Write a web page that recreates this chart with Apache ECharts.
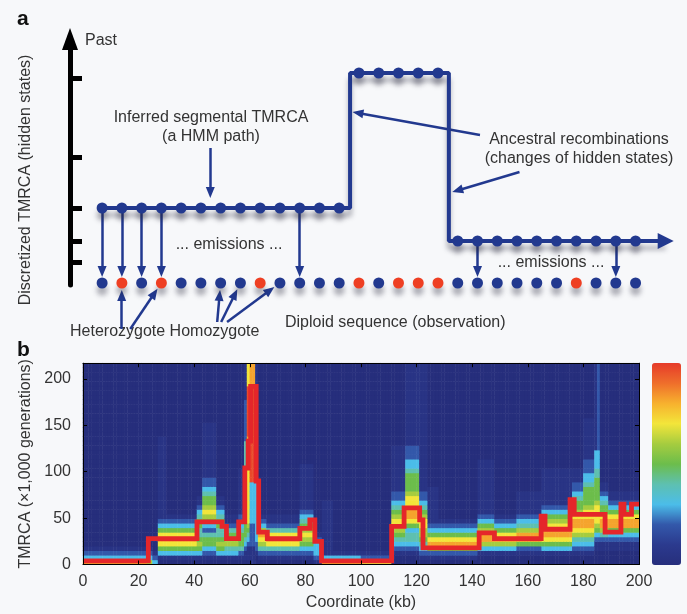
<!DOCTYPE html>
<html>
<head>
<meta charset="utf-8">
<script src="https://cdn.jsdelivr.net/npm/echarts@6/dist/echarts.min.js"></script>
<style>
  html, body { margin: 0; padding: 0; background: #f7f8fa; }
  #chart { width: 687px; height: 614px; }
</style>
</head>
<body>
<div id="chart"></div>
<script>
// ---------- panel a: HMM schematic ----------
// hidden state (height of the inferred TMRCA) at each site of the path
const hiddenPath = [77, 77, 77, 77, 77, 77, 77, 77, 77, 77, 77, 77, 77,
  212, 212, 212, 212, 212,
  44, 44, 44, 44, 44, 44, 44, 44, 44, 44];
// discretized TMRCA levels shown as ticks on the black axis
const stateTicks = [23, 44, 77, 128, 207];
// observed genotype per site: 1 = heterozygote (red), 0 = homozygote (blue)
const genotype = [0, 1, 0, 1, 0, 0, 0, 0, 1, 0, 0, 0, 0, 1, 0, 1, 1, 1, 0, 0, 0, 0, 0, 0, 1, 0, 0, 0];
const emissionSites = [0, 1, 2, 3, 10, 19, 26];
const obsLevel = 2;
const heteroTargets = [1, 3];
const homoTargets = [6, 7, 9];

// ---------- panel b: posterior decoding ----------
const coordTicks = [0, 20, 40, 60, 80, 100, 120, 140, 160, 180, 200];
const tmrcaTicks = [0, 50, 100, 150, 200];
// MAP path: [start (kb), TMRCA (x1,000 generations)], held until next start
const mapSteps = [[0, 4], [23.5, 28], [41, 46], [50, 41], [51.6, 28], [56, 46], [58.2, 104], [59.4, 133],
  [60.3, 192], [62.3, 90], [63.2, 35], [66.3, 28], [78, 39], [81.6, 48], [83.4, 25], [85.8, 4],
  [111, 41], [115.5, 61], [121.1, 48], [122.3, 18], [142.5, 34], [148, 28], [164.8, 52], [166.2, 38],
  [175.2, 70], [176.7, 54], [187.8, 35], [193.5, 65], [194.6, 54], [197.3, 65]];
const mapEnd = 200;
// posterior intensity per 1-kb column, one digit per 5-unit TMRCA bin from the bottom (0 = none, 9 = max)
const posteriorCols = [
  [0, 23, '8321'],
  [23, 25, '6321'],
  [25, 27, '321'],
  [27, 30, '0135787532111111111111111111'],
  [30, 41, '01357875321'],
  [41, 43, '013565445543211'],
  [43, 48, '0123554235676554322111111111111'],
  [48, 51, '013565445543211'],
  [51, 56, '01346654211'],
  [56, 58, '012455543221111111111'],
  [58, 59, '011234' + '555555555555555' + '444444' + '222222222' + '11111111'],
  [59, 60, '011123456' + '777777777777' + '8888888' + '99999999999' + '77777'],
  [60, 62, '1111' + '22222' + '333333333' + '999999999999999999999' + '88888'],
  [62, 63, '00122333' + '3333333333333' + '22222222' + '111111111111111'],
  [63, 66, '01246786321'],
  [66, 78, '01247874211'],
  [78, 83, '0123567654321111111111'],
  [83, 86, '1233321'],
  [86, 90, '83111111111111'],
  [90, 100, '831'],
  [100, 111, '721'],
  [111, 116, '00123456776543221111111111'],
  [116, 121, '00123443578877765555433222' + '111111111111111111'],
  [121, 124, '0123456677654322' + '1111111111111111111111111111'],
  [124, 128, '01258753211111111'],
  [128, 142, '0125875321'],
  [142, 148, '00136886532111111111111'],
  [148, 156, '00136875321'],
  [156, 165, '0012588643211111'],
  [165, 176, '001357887653211111111'],
  [176, 180, '001234678876554322111'],
  [180, 184, '00123467887765555433222111111111'],
  [184, 185, '0001123567777655555443333' + '1111111111111111111'],
  [185, 186, '0001123567777655555443333' + '2222222222222222222'],
  [186, 189, '000112468875543211'],
  [189, 200, '0001123588753211']
];
const levelValue = { 0: 0, 1: 0.05, 2: 0.2, 3: 0.3, 4: 0.4, 5: 0.5, 6: 0.6, 7: 0.7, 8: 0.82, 9: 0.97 };
const heatColors = ['#262e7c', '#2b3a8e', '#3358aa', '#4bbde9', '#5ec0b0', '#6cbd4b',
  '#a6cc3f', '#f3e53a', '#f7b12e', '#ef6e2b', '#e63b2a'];

const ROWS = 44;
const COLS = 200;

const FONT = "'Liberation Sans', Arial, Helvetica, sans-serif";
const INK = '#333';
const NAVY = '#22398f';
const RED_DOT = '#ee3f23';
const MAP_RED = '#e5262a';
const TRI = 'path://M5,0L10,10L0,10Z';
const TRI_AXIS = 'path://M8,0L16,22L0,22Z';

// panel a layout: site index along x (20 px per site), pixel height along y
const SITE0_PX = 102.5, SITE_STEP = 20, A_BASE = 285;
const toPx = p => [SITE0_PX + p[0] * SITE_STEP, A_BASE - p[1]];
const toData = q => [(q[0] - SITE0_PX) / SITE_STEP, A_BASE - q[1]];

// pull the segment end back so the triangle tip lands on `tip`
function arrow(fromPx, tipPx, back) {
  const dx = tipPx[0] - fromPx[0], dy = tipPx[1] - fromPx[1];
  const len = Math.hypot(dx, dy);
  return { coords: [toData(fromPx), toData([tipPx[0] - dx / len * back, tipPx[1] - dy / len * back])] };
}
// arrow from a label to the edge of an observation dot
function toDot(fromPx, site, back) {
  const c = toPx([site, obsLevel]);
  const dx = c[0] - fromPx[0], dy = c[1] - fromPx[1];
  const len = Math.hypot(dx, dy);
  return arrow(fromPx, [c[0] - dx / len * 7, c[1] - dy / len * 7], back);
}

// path polyline with vertical jumps halfway between sites
const pathPts = [[0, hiddenPath[0]]];
for (let i = 1; i < hiddenPath.length; i++) {
  if (hiddenPath[i] !== hiddenPath[i - 1]) {
    pathPts.push([i - 0.45, hiddenPath[i - 1]], [i - 0.45, hiddenPath[i]]);
  }
}
const lastSite = hiddenPath.length - 1;
pathPts.push([lastSite, hiddenPath[lastSite]]);

const pathDots = hiddenPath.map((v, i) => [i, v]);
const obsDots = genotype.map((g, i) => [i, obsLevel, g]);

const emissionArrows = emissionSites.map(s =>
  arrow(toPx([s, hiddenPath[s]]), toPx([s, obsLevel + 6]), 5.5));

const labelArrows = [
  toDot([122, 329], heteroTargets[0], 5.5),
  toDot([131, 329], heteroTargets[1], 5.5),
  toDot([219, 322], homoTargets[0], 5.5),
  toDot([223, 322], homoTargets[1], 5.5),
  toDot([229, 322], homoTargets[2], 5.5),
  arrow([485, 135], [356, 112], 5.5),
  arrow([525, 172], [457, 192], 5.5),
  arrow([212, 148], [212, 198], 5.5)
];

const endArrow = arrow(toPx([lastSite, hiddenPath[lastSite]]), [681, A_BASE - hiddenPath[lastSite]], 8);

// MAP step line
const mapLine = [];
mapSteps.forEach(([x, v], i) => {
  const next = i + 1 < mapSteps.length ? mapSteps[i + 1][0] : mapEnd;
  mapLine.push([x, v], [next, v]);
});

// heatmap cells
const heat = [];
posteriorCols.forEach(([a, b, prof]) => {
  for (let x = a; x < b; x++) {
    for (let r = 0; r < ROWS; r++) {
      heat.push([x, r, levelValue[prof[r] || '0']]);
    }
  }
});
const colCats = Array.from({ length: COLS }, (_, i) => i);
const rowCats = Array.from({ length: ROWS }, (_, i) => i);

const shadow = { shadowColor: 'rgba(40,40,60,0.35)', shadowBlur: 5, shadowOffsetY: 7 };
const txt = (text, x, y, extra) => ({
  type: 'text', x, y, silent: true,
  style: Object.assign({ text, font: '16px ' + FONT, fill: INK, align: 'left', verticalAlign: 'middle' }, extra || {})
});

const chart = echarts.init(document.getElementById('chart'));

const option = {
  animation: false,
  backgroundColor: '#f7f8fa',
  textStyle: { fontFamily: FONT },
  grid: [
    { left: 70, right: 4.5, top: 20, bottom: 269 },
    { left: 70, right: 4.5, top: 39, bottom: 329 },
    { left: 83, right: 48, top: 363.2, bottom: 49.5 },
    { left: 83, right: 48, top: 363.2, bottom: 49.5 }
  ],
  xAxis: [
    { gridIndex: 0, type: 'value', min: -1.625, max: 29.375, show: false },
    { gridIndex: 1, type: 'value', min: -1.625, max: 29.375, show: false },
    {
      gridIndex: 2, type: 'value', min: 0, max: 200, interval: 20, position: 'bottom', z: 5,
      axisLine: { onZero: false, lineStyle: { color: '#000', width: 1 } },
      axisTick: { inside: true, length: 4, lineStyle: { color: '#000' } },
      axisLabel: { color: INK, fontSize: 16, margin: 9, customValues: coordTicks },
      splitLine: { show: false },
      name: 'Coordinate (kb)', nameLocation: 'middle', nameGap: 30,
      nameTextStyle: { color: INK, fontSize: 16 }
    },
    {
      gridIndex: 2, type: 'value', min: 0, max: 200, interval: 20, position: 'top', z: 5,
      axisLine: { onZero: false, lineStyle: { color: '#000', width: 1 } },
      axisTick: { inside: true, length: 4, lineStyle: { color: '#000' } },
      axisLabel: { show: false }, splitLine: { show: false }
    },
    { gridIndex: 3, type: 'category', data: colCats, show: false }
  ],
  yAxis: [
    { gridIndex: 0, type: 'value', min: -60, max: 265, show: false },
    {
      gridIndex: 1, type: 'value', min: 0, max: 246, position: 'left',
      axisLine: {
        show: true, onZero: false, symbol: ['none', TRI_AXIS], symbolSize: [16, 22],
        lineStyle: { color: '#000', width: 5 }
      },
      axisTick: { show: true, inside: true, length: 12, customValues: stateTicks, lineStyle: { color: '#000', width: 5 } },
      axisLabel: { show: false }, splitLine: { show: false }
    },
    {
      gridIndex: 2, type: 'value', min: 0, max: 217, position: 'left', z: 5,
      axisLine: { onZero: false, lineStyle: { color: '#000', width: 1 } },
      axisTick: { inside: true, length: 4, customValues: tmrcaTicks, lineStyle: { color: '#000' } },
      axisLabel: { color: INK, fontSize: 16, margin: 12, customValues: tmrcaTicks },
      splitLine: { show: false },
      name: 'TMRCA (\u00d71,000 generations)', nameLocation: 'middle', nameGap: 48,
      nameTextStyle: { color: INK, fontSize: 16 }
    },
    {
      gridIndex: 2, type: 'value', min: 0, max: 217, position: 'right', z: 5,
      axisLine: { onZero: false, lineStyle: { color: '#000', width: 1 } },
      axisTick: { inside: true, length: 4, customValues: tmrcaTicks, lineStyle: { color: '#000' } },
      axisLabel: { show: false }, splitLine: { show: false }
    },
    { gridIndex: 3, type: 'category', data: rowCats, show: false }
  ],
  visualMap: {
    type: 'continuous', min: 0, max: 1, seriesIndex: 0, dimension: 2,
    calculable: false, hoverLink: false, orient: 'vertical',
    left: 652, top: 363, itemWidth: 29, itemHeight: 202, padding: 0,
    text: null, inRange: { color: heatColors }
  },
  series: [
    {
      type: 'heatmap', xAxisIndex: 4, yAxisIndex: 4, data: heat, z: 1,
      progressive: 0, silent: true, itemStyle: { borderWidth: 0 }
    },
    {
      type: 'line', xAxisIndex: 2, yAxisIndex: 2, data: mapLine, z: 4, silent: true,
      symbol: 'none', lineStyle: { color: MAP_RED, width: 4.8, join: 'miter' }
    },
    {
      type: 'lines', coordinateSystem: 'cartesian2d', xAxisIndex: 0, yAxisIndex: 0, z: 2, silent: true,
      symbol: ['none', TRI], symbolSize: [1, [9, 11]],
      lineStyle: { color: NAVY, width: 2.5, opacity: 1, curveness: 0 },
      data: emissionArrows.concat(labelArrows)
    },
    {
      type: 'line', xAxisIndex: 0, yAxisIndex: 0, data: pathPts, z: 3, silent: true,
      symbol: 'none', lineStyle: Object.assign({ color: NAVY, width: 4 }, shadow)
    },
    {
      type: 'lines', coordinateSystem: 'cartesian2d', xAxisIndex: 0, yAxisIndex: 0, z: 3, silent: true,
      symbol: ['none', TRI], symbolSize: [1, [16, 16]],
      lineStyle: Object.assign({ color: NAVY, width: 4, opacity: 1, curveness: 0 }, shadow),
      data: [endArrow]
    },
    {
      type: 'scatter', xAxisIndex: 0, yAxisIndex: 0, data: pathDots, z: 4, silent: true,
      symbolSize: 11, itemStyle: Object.assign({ color: NAVY, opacity: 1 }, shadow)
    },
    {
      type: 'scatter', xAxisIndex: 0, yAxisIndex: 0, data: obsDots, z: 4, silent: true,
      symbolSize: 11,
      itemStyle: Object.assign({ opacity: 1, color: p => (p.data[2] ? RED_DOT : NAVY) }, shadow)
    }
  ],
  graphic: [
    txt('a', 17, 19, { font: 'bold 21px ' + FONT, fill: '#111' }),
    txt('b', 17, 350, { font: 'bold 21px ' + FONT, fill: '#111' }),
    txt('Past', 85, 41),
    txt('Inferred segmental TMRCA\n(a HMM path)', 211, 127, { align: 'center', lineHeight: 19 }),
    txt('... emissions ...', 229, 245, { align: 'center' }),
    txt('... emissions ...', 551, 263, { align: 'center' }),
    txt('Ancestral recombinations\n(changes of hidden states)', 579, 149, { align: 'center', lineHeight: 19 }),
    txt('Diploid sequence (observation)', 285, 323),
    txt('Heterozygote Homozygote', 70, 332),
    Object.assign(txt('Discretized TMRCA (hidden states)', 26, 180, { align: 'center' }), { rotation: Math.PI / 2 })
  ]
};

chart.setOption(option);
window.addEventListener('resize', () => chart.resize());
</script>
</body>
</html>
